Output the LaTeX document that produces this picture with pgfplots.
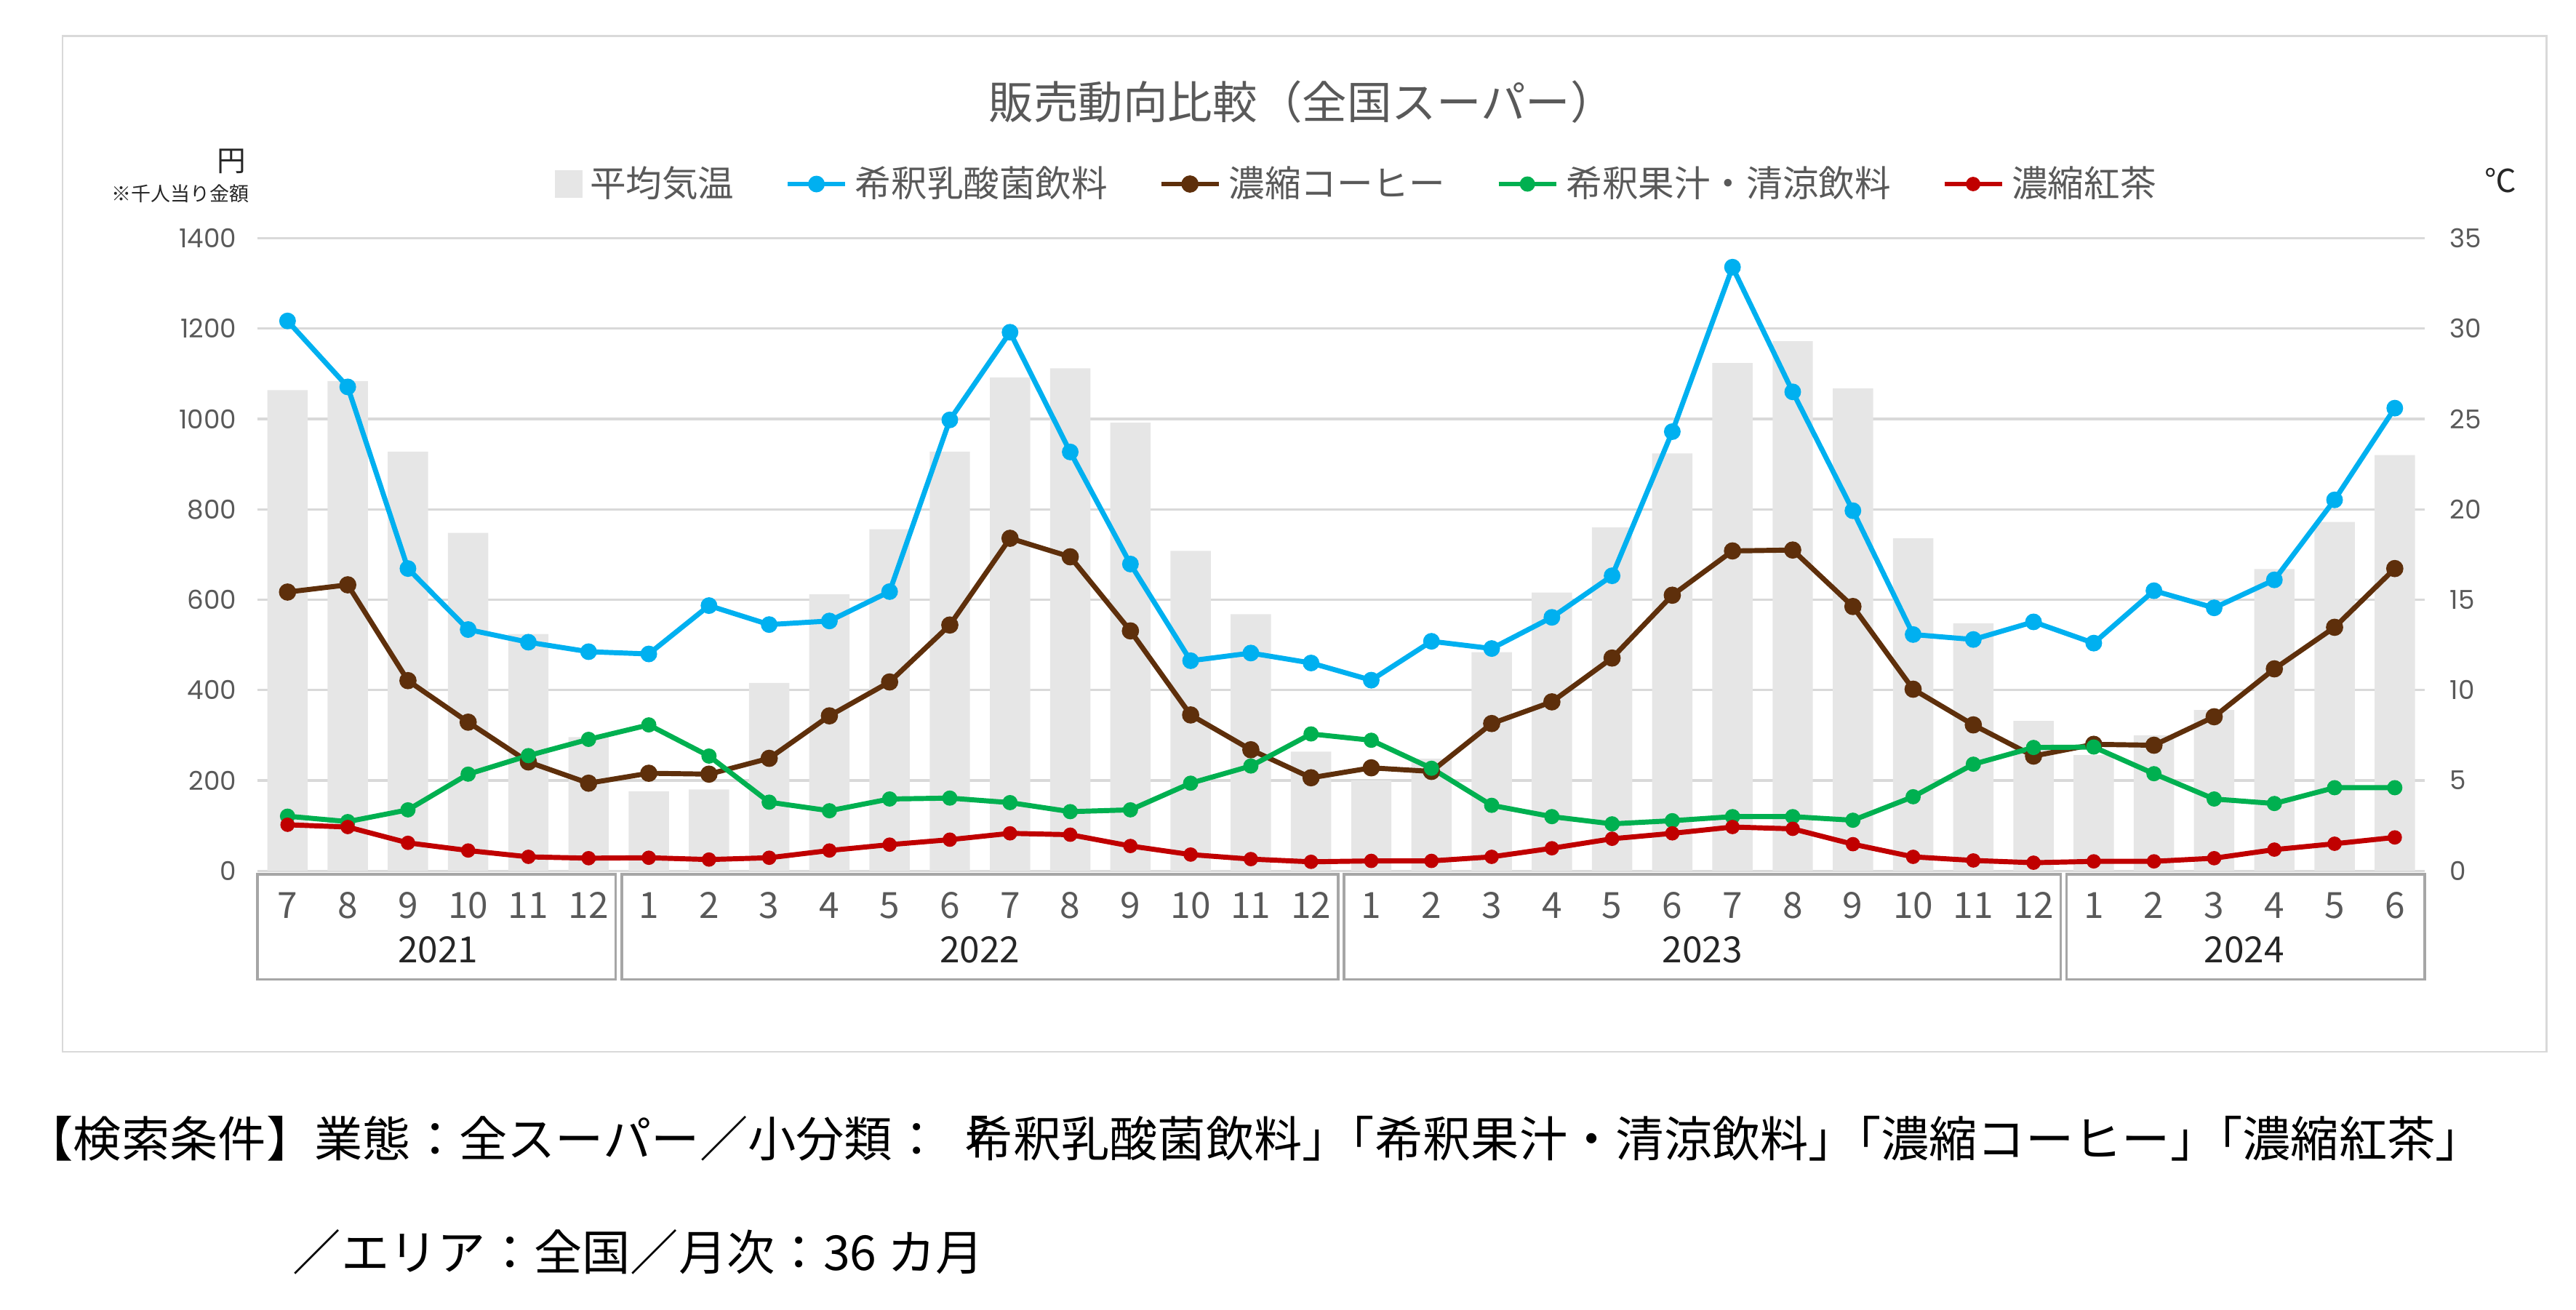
\documentclass[border=0pt]{standalone}
\usepackage{pgfplots}
\pgfplotsset{compat=1.18}
\usepackage{pgfplotstable}
\usepackage{fontspec}
\setmainfont{Noto Sans CJK JP}
\newfontfamily\numfont{Poppins}
\definecolor{cblue}{HTML}{00B0F0}
\definecolor{cbrown}{HTML}{5E2F0B}
\definecolor{cgreen}{HTML}{00B050}
\definecolor{cred}{HTML}{C00000}
\definecolor{cbar}{HTML}{E6E6E6}
\definecolor{ctext}{HTML}{595959}
\definecolor{cdark}{HTML}{262626}
\definecolor{cgrid}{HTML}{D9D9D9}
\definecolor{cbox}{HTML}{A6A6A6}

\pgfplotstableread{
x temp blue brown green red
0 26.6 1217 617 121 102
1 27.1 1071 633 109 97
2 23.2 669 421 135 62
3 18.7 534 329 214 45
4 13.1 506 241 255 31
5 7.4 485 194 291 28
6 4.4 480 216 323 29
7 4.5 587 214 254 25
8 10.4 545 249 152 29
9 15.3 553 343 133 45
10 18.9 618 418 159 58
11 23.2 998 544 161 69
12 27.3 1192 736 151 83
13 27.8 927 695 131 80
14 24.8 679 531 135 55
15 17.7 465 345 194 36
16 14.2 482 268 232 26
17 6.6 460 206 303 20
18 5.0 422 228 289 22
19 6.2 508 220 227 22
20 12.1 492 326 145 31
21 15.4 561 374 120 50
22 19.0 653 471 104 71
23 23.1 972 610 111 83
24 28.1 1336 708 120 97
25 29.3 1060 710 120 93
26 26.7 797 585 112 59
27 18.4 523 402 164 31
28 13.7 512 323 236 23
29 8.3 551 254 273 18
30 6.4 504 280 274 21
31 7.5 620 278 215 21
32 8.9 582 341 159 28
33 16.7 644 447 149 47
34 19.3 821 539 184 60
35 23.0 1024 669 184 74
}\datatable

\pgfplotsset{
  base/.style={
    scale only axis, width=26.386cm, height=7.7cm,
    at={(3.134cm,-10.6cm)}, anchor=south west,
    xmin=-0.5, xmax=35.5,
    axis line style={draw=none},
    major tick length=0pt,
    clip=false,
    /pgf/number format/assume math mode=true,
    /pgf/number format/1000 sep={},
    yticklabel style={font=\numfont\fontsize{9}{10}\selectfont, text=ctext},
  },
  lineplot/.style={line width=1.75pt, mark=*, mark options={solid}},
}

\begin{document}
\begin{tikzpicture}
\path[use as bounding box] (0,0) rectangle (31.36,-15.94);
\draw[cgrid, line width=0.6pt] (0.76,-0.44) rectangle (31.0,-12.8);

% bars (temperature, right axis)
\begin{axis}[base,
  ymin=0, ymax=35, ytick={0,5,...,35},
  yticklabel pos=right,
  yticklabel style={xshift=0.18cm},
  xtick=\empty,
  ymajorgrids, grid style={cgrid, line width=0.8pt},
]
\addplot[ybar, bar width=0.67, fill=cbar, draw=none] table[x=x, y=temp]{\datatable};
\end{axis}

% lines (left axis)
\begin{axis}[base,
  ymin=0, ymax=1400, ytick={0,200,...,1400},
  yticklabel pos=left,
  yticklabel style={xshift=-0.13cm},
  xtick={0,...,35},
  xticklabels={7,8,9,10,11,12,1,2,3,4,5,6,7,8,9,10,11,12,1,2,3,4,5,6,7,8,9,10,11,12,1,2,3,4,5,6},
  xticklabel style={font=\fontsize{12.5}{14}\selectfont, text=ctext, anchor=center, yshift=-0.42cm},
  legend columns=5,
  legend style={at={(0.508,1.0857)}, anchor=center, draw=none, fill=none,
    font=\fontsize{12.5}{14}\selectfont, text=ctext,
    /tikz/every even column/.append style={column sep=0.55cm},
    /tikz/every odd column/.append style={column sep=0.02cm}},
  legend image code/.code={\draw[mark repeat=2, mark phase=2] plot coordinates {(0cm,0cm) (0.35cm,0cm) (0.7cm,0cm)};},
]
\addlegendimage{legend image code/.code={\fill[cbar] (0cm,-0.16cm) rectangle (0.32cm,0.16cm);}}
\addlegendentry{平均気温}
\addplot[lineplot, color=cblue, mark size=2pt] table[x=x, y=blue]{\datatable};
\addlegendentry{希釈乳酸菌飲料}
\addplot[lineplot, color=cbrown, mark size=2.1pt] table[x=x, y=brown]{\datatable};
\addlegendentry{濃縮コーヒー}
\addplot[lineplot, color=cgreen, mark size=1.75pt] table[x=x, y=green]{\datatable};
\addlegendentry{希釈果汁・清涼飲料}
\addplot[lineplot, color=cred, mark size=1.6pt] table[x=x, y=red]{\datatable};
\addlegendentry{濃縮紅茶}

\draw[cbox, line width=0.9pt] ([yshift=-0.04cm]axis cs:-0.5,0) rectangle ([yshift=-1.32cm]axis cs:5.45,0);
\draw[cbox, line width=0.9pt] ([yshift=-0.04cm]axis cs:5.55,0) rectangle ([yshift=-1.32cm]axis cs:17.45,0);
\draw[cbox, line width=0.9pt] ([yshift=-0.04cm]axis cs:17.55,0) rectangle ([yshift=-1.32cm]axis cs:29.45,0);
\draw[cbox, line width=0.9pt] ([yshift=-0.04cm]axis cs:29.55,0) rectangle ([yshift=-1.32cm]axis cs:35.5,0);
\node[font=\fontsize{12.5}{14}\selectfont, text=cdark] at ([yshift=-0.96cm]axis cs:2.5,0) {2021};
\node[font=\fontsize{12.5}{14}\selectfont, text=cdark] at ([yshift=-0.96cm]axis cs:11.5,0) {2022};
\node[font=\fontsize{12.5}{14}\selectfont, text=cdark] at ([yshift=-0.96cm]axis cs:23.5,0) {2023};
\node[font=\fontsize{12.5}{14}\selectfont, text=cdark] at ([yshift=-0.96cm]axis cs:32.5,0) {2024};
\end{axis}

\node[font=\fontsize{15.5}{18}\selectfont, text=ctext] at (15.85,-1.24) {販売動向比較（全国スーパー）};
\node[anchor=east, inner sep=0pt, font=\fontsize{10}{12}\selectfont, text=cdark] at (3.0,-1.96) {円};
\node[anchor=east, inner sep=0pt, font=\fontsize{6.8}{8}\selectfont, text=cdark] at (3.04,-2.36) {※千人当り金額};
\node[inner sep=0pt, font=\fontsize{11}{12}\selectfont, text=cdark] at (30.44,-2.2) {℃};

\node[anchor=west, inner sep=0pt, font=\fontsize{16.7}{20}\selectfont] at (0.3,-13.86) {【検索条件】業態：全スーパー／小分類：「\hspace{-0.5em}希釈乳酸菌飲料」\hspace{-0.5em}「希釈果汁・清涼飲料」\hspace{-0.5em}「濃縮コーヒー」\hspace{-0.5em}「濃縮紅茶」};
\node[anchor=west, inner sep=0pt, font=\fontsize{16.7}{20}\selectfont] at (3.56,-15.24) {／エリア：全国／月次：36 カ月};
\end{tikzpicture}
\end{document}
